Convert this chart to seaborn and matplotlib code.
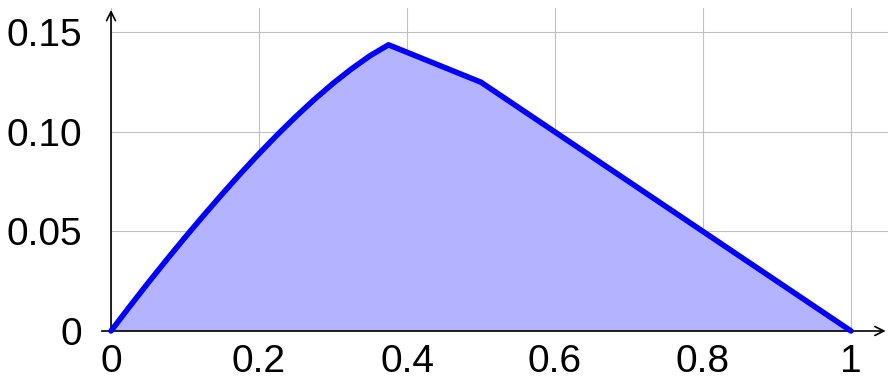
import matplotlib
matplotlib.use("Agg")
import matplotlib.pyplot as plt
import seaborn as sns
import pandas as pd
from matplotlib.ticker import FixedLocator, FixedFormatter

# Profile samples: rising arc, apex, kink and straight descent to zero
x_vals = [0.0, 0.025, 0.05, 0.075, 0.10, 0.125, 0.15, 0.175, 0.20, 0.225,
          0.25, 0.275, 0.30, 0.325, 0.35, 0.375, 0.50, 1.00]
y_vals = [0.0, 0.0122, 0.0241, 0.0357, 0.0470, 0.0580, 0.0687, 0.0791, 0.0891,
          0.0987, 0.1078, 0.1164, 0.1244, 0.1317, 0.1383, 0.1438, 0.125, 0.0]

x_major = [0, 0.2, 0.4, 0.6, 0.8, 1.0]
x_labels = ["0", "0.2", "0.4", "0.6", "0.8", "1"]
x_minor = [0.1, 0.3, 0.5, 0.7, 0.9]
y_major = [0, 0.05, 0.10, 0.15]
y_labels = ["0", "0.05", "0.10", "0.15"]
y_minor = [0.025, 0.075, 0.125]

sns.set_style("white")
plt.rcParams["font.family"] = ["Liberation Sans", "DejaVu Sans"]

df = pd.DataFrame({"x": x_vals, "y": y_vals})

W, H = 888, 382
fig = plt.figure(figsize=(W / 100, H / 100), dpi=100)
ax = fig.add_axes([111 / W, 51 / H, 777 / W, 323 / H])

ax.set_xlim(0, 1.05)
ax.set_ylim(0, 0.1623)

ax.fill_between(df["x"], df["y"], color="#b3b3ff", lw=0, zorder=1)
sns.lineplot(data=df, x="x", y="y", ax=ax, color="#0000ff", lw=4.0,
             sort=False, zorder=4, clip_on=False)
ax.lines[-1].set_solid_joinstyle("round")
ax.lines[-1].set_solid_capstyle("round")

ax.xaxis.set_major_locator(FixedLocator(x_major))
ax.xaxis.set_major_formatter(FixedFormatter(x_labels))
ax.xaxis.set_minor_locator(FixedLocator(x_minor))
ax.yaxis.set_major_locator(FixedLocator(y_major))
ax.yaxis.set_major_formatter(FixedFormatter(y_labels))
ax.yaxis.set_minor_locator(FixedLocator(y_minor))

ax.grid(True, which="major", color="#c0c0c0", lw=0.8, zorder=0)
ax.set_axisbelow(True)

ax.tick_params(axis="both", which="major", labelsize=28, colors="#404040",
               labelcolor="black", direction="inout", width=0.8)
ax.tick_params(axis="x", which="major", length=8, pad=5)
ax.tick_params(axis="y", which="major", length=12, pad=15)
ax.tick_params(axis="both", which="minor", direction="inout", length=8,
               width=0.8, colors="#404040")

for s in ax.spines.values():
    s.set_visible(False)

ax.set_xlabel("")
ax.set_ylabel("")

# axis lines with arrow heads
arrow = dict(arrowstyle="->", lw=1.2, color="black", mutation_scale=16,
             shrinkA=0, shrinkB=0)
ax.annotate("", xy=(0.997, 0), xytext=(-0.012, 0), xycoords="axes fraction",
            textcoords="axes fraction", arrowprops=arrow, zorder=3,
            annotation_clip=False)
ax.annotate("", xy=(0, 0.994), xytext=(0, 0), xycoords="axes fraction",
            textcoords="axes fraction", arrowprops=arrow, zorder=3,
            annotation_clip=False)

fig.savefig("out.png", dpi=100)
